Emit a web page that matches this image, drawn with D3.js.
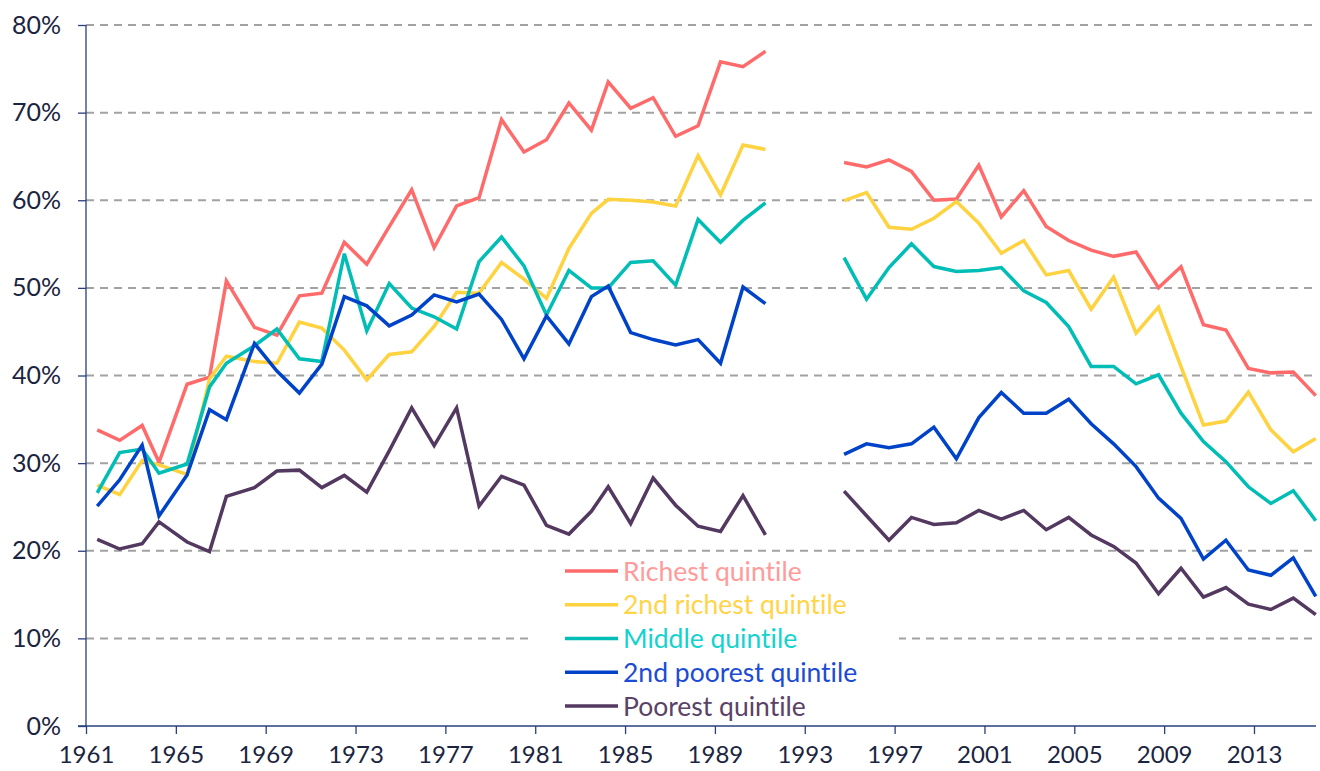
<!DOCTYPE html>
<html>
<head>
<meta charset="utf-8">
<script src="https://cdn.jsdelivr.net/npm/d3@7"></script>
<style>
  html, body { margin: 0; padding: 0; background: #ffffff; }
  svg { display: block; }
  text { font-family: Lato, "Noto Sans", sans-serif; font-variant-ligatures: none; }
</style>
</head>
<body>
<svg id="chart" width="1320" height="771"></svg>
<script>
// ---- Data (values in %) ----
const years1 = [1961.5, 1962.5, 1963.5, 1964.25, 1965.5, 1966.5, 1967.25, 1968.5, 1969.5, 1970.5,
  1971.5, 1972.5, 1973.5, 1974.5, 1975.5, 1976.5, 1977.5, 1978.5, 1979.5, 1980.5,
  1981.5, 1982.5, 1983.5, 1984.25, 1985.25, 1986.25, 1987.25, 1988.25, 1989.25, 1990.25, 1991.25];
const years2 = [1994.75, 1995.75, 1996.75, 1997.75, 1998.75, 1999.75, 2000.75, 2001.75, 2002.75, 2003.75,
  2004.75, 2005.75, 2006.75, 2007.75, 2008.75, 2009.75, 2010.75, 2011.75, 2012.75, 2013.75, 2014.75, 2015.75];

const richest1 = [33.8, 32.6, 34.3, 30.1, 39.0, 39.8, 50.8, 45.5, 44.6, 49.1, 49.4, 55.2, 52.7, 57.0, 61.2, 54.6,
  59.35, 60.3, 69.2, 65.5, 66.9, 71.1, 68.0, 73.5, 70.5, 71.7, 67.3, 68.5, 75.8, 75.25, 77.0];
const richest2 = [64.3, 63.8, 64.6, 63.3, 60.0, 60.15, 64.0, 58.1, 61.1, 57.0, 55.4, 54.3, 53.6, 54.1, 50.0,
  52.4, 45.8, 45.2, 40.8, 40.3, 40.4, 37.7];

const richer1 = [27.5, 26.4, 30.3, 29.8, 28.7, 39.6, 42.2, 41.6, 41.4, 46.1, 45.4, 42.9, 39.5, 42.4, 42.7, 45.6,
  49.5, 49.4, 52.9, 51.0, 48.8, 54.5, 58.5, 60.1, 60.0, 59.8, 59.35, 65.1, 60.6, 66.3, 65.8];
const richer2 = [59.96, 60.87, 56.92, 56.69, 57.95, 59.85, 57.38, 53.95, 55.4, 51.48, 51.98, 47.57, 51.22, 44.83,
  47.8, 41.0, 34.35, 34.8, 38.1, 33.8, 31.3, 32.8];

const middle1 = [26.6, 31.2, 31.6, 28.85, 29.9, 38.7, 41.4, 43.4, 45.3, 41.9, 41.6, 53.9, 45.1, 50.5, 47.7, 46.7,
  45.3, 53.0, 55.8, 52.5, 46.9, 52.0, 50.0, 50.0, 52.9, 53.1, 50.3, 57.8, 55.2, 57.7, 59.7];
const middle2 = [53.46, 48.71, 52.32, 55.02, 52.43, 51.86, 51.98, 52.32, 49.66, 48.33, 45.59, 41.03, 41.03, 39.05,
  40.08, 35.7, 32.45, 30.17, 27.3, 25.4, 26.85, 23.43];

const poorer1 = [25.1, 28.1, 32.05, 23.97, 28.66, 36.1, 34.96, 43.66, 40.5, 38.0, 41.3, 49.0, 47.95, 45.67, 46.9,
  49.2, 48.4, 49.3, 46.4, 41.9, 46.8, 43.6, 49.0, 50.2, 44.9, 44.1, 43.5, 44.1, 41.4, 50.1, 48.2];
const poorer2 = [31.0, 32.2, 31.75, 32.2, 34.1, 30.5, 35.2, 38.06, 35.7, 35.7, 37.3, 34.5, 32.2, 29.6, 26.0, 23.7,
  19.05, 21.2, 17.8, 17.2, 19.2, 14.8];

const poorest1 = [21.3, 20.2, 20.8, 23.3, 21.0, 19.9, 26.2, 27.2, 29.1, 29.2, 27.2, 28.6, 26.7, 31.4, 36.3, 32.0,
  36.3, 25.1, 28.5, 27.5, 22.9, 21.9, 24.5, 27.3, 23.1, 28.3, 25.2, 22.8, 22.2, 26.3, 21.8];
const poorest2 = [26.8, 24.0, 21.2, 23.8, 23.0, 23.2, 24.6, 23.6, 24.6, 22.4, 23.8, 21.8, 20.5, 18.6, 15.1, 18.0,
  14.7, 15.8, 13.9, 13.3, 14.6, 12.7];

const seriesNames = ["Richest quintile", "2nd richest quintile", "Middle quintile", "2nd poorest quintile", "Poorest quintile"];
const xTicks = [1961, 1965, 1969, 1973, 1977, 1981, 1985, 1989, 1993, 1997, 2001, 2005, 2009, 2013];
const yTicks = [0, 10, 20, 30, 40, 50, 60, 70, 80];

// ---- Styles ----
const lineColors = ["#FF6B6B", "#FFD23F", "#00BDB6", "#0043C9", "#533860"];
const textColors = ["#FF9B9B", "#FFD447", "#14D3CF", "#1C4BD4", "#5B4266"];
const inkColor = "#1B2440";
const axisColor = "#27407E";

const series = [
  [richest1, richest2], [richer1, richer2], [middle1, middle2], [poorer1, poorer2], [poorest1, poorest2]
];

const svg = d3.select("#chart");
const x = d3.scaleLinear().domain([1961, 2015.85]).range([86, 1318]);
const y = d3.scaleLinear().domain([0, 80]).range([726, 25]);

// Gridlines
svg.append("g").selectAll("line")
  .data(yTicks.filter(d => d > 0))
  .join("line")
  .attr("x1", x(1961)).attr("x2", 1318)
  .attr("y1", d => y(d)).attr("y2", d => y(d))
  .attr("stroke", "#A2A2A2").attr("stroke-width", 2)
  .attr("stroke-dasharray", "8,6");

// Y axis
const yAxis = d3.axisLeft(y).tickValues(yTicks).tickFormat(d => d + "%").tickSize(8).tickPadding(17);
const gy = svg.append("g").attr("transform", `translate(${x(1961)},0)`).call(yAxis);
gy.select(".domain").attr("stroke", axisColor).attr("stroke-width", 1.3).attr("d", `M0,${y(80)}V${y(0)}`);
gy.selectAll(".tick line").attr("stroke", axisColor).attr("stroke-width", 1.3);
gy.selectAll(".tick text").attr("fill", inkColor).attr("font-size", 25).attr("font-family", "Lato, sans-serif");

// X axis
const xAxis = d3.axisBottom(x).tickValues(xTicks).tickFormat(d3.format("d")).tickSize(8).tickPadding(12);
const gx = svg.append("g").attr("transform", `translate(0,${y(0)})`).call(xAxis);
gx.select(".domain").attr("stroke", axisColor).attr("stroke-width", 1.3).attr("d", `M${x(1961) - 8},0H${x(2015.85) - 2}`);
gx.selectAll(".tick line").attr("stroke", axisColor).attr("stroke-width", 1.3);
gx.selectAll(".tick text").attr("fill", inkColor).attr("font-size", 24).attr("font-family", "Lato, sans-serif");

// Lines
const line = d3.line().x(d => x(d[0])).y(d => y(d[1]));
const gl = svg.append("g");
series.forEach((segs, i) => {
  [years1, years2].forEach((yrs, k) => {
    const pts = yrs.map((yr, j) => [yr, segs[k][j]]);
    gl.append("path").attr("d", line(pts))
      .attr("fill", "none").attr("stroke", lineColors[i]).attr("stroke-width", 3.5)
      .attr("stroke-linejoin", "miter");
  });
});

// Legend
const lg = svg.append("g");
lg.append("rect").attr("x", 530).attr("y", 556).attr("width", 369).attr("height", 166).attr("fill", "#ffffff");
const rows = d3.scaleLinear().domain([0, 4]).range([571, 706]);
seriesNames.forEach((name, i) => {
  lg.append("line").attr("x1", 565).attr("x2", 618).attr("y1", rows(i)).attr("y2", rows(i))
    .attr("stroke", lineColors[i]).attr("stroke-width", 3.5);
  lg.append("text").attr("x", 623).attr("y", rows(i) + 9.5).attr("font-size", 26.5)
    .attr("fill", textColors[i]).text(name);
});
</script>
</body>
</html>
